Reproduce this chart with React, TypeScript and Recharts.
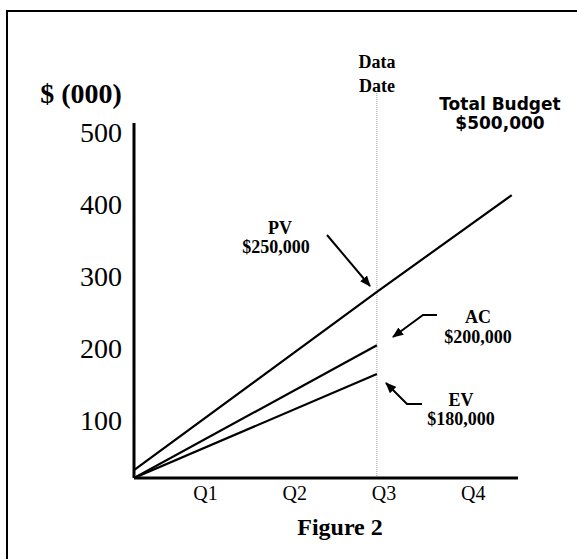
import React from "react";
import { LineChart, Line, XAxis, YAxis, ReferenceLine } from "recharts";

// time in quarters from project start
const periods = [0, 2.72, 4.23];
const pvValues = [31, 278, 412];
const acValues: (number | null)[] = [20, 204, null];
const evValues: (number | null)[] = [20, 164, null];

const dataDate = 2.72;
const quarterTicks = [0.8, 1.8, 2.8, 3.8];
const quarterLabels = ["Q1", "Q2", "Q3", "Q4"];
const yTicks = [100, 200, 300, 400, 500];

const chartData = periods.map((t, i) => ({
    t,
    pv: pvValues[i],
    ac: acValues[i],
    ev: evValues[i],
}));

const serif = "'Liberation Serif', 'Times New Roman', serif";
const sans = "'DejaVu Sans', Verdana, sans-serif";

function Notes() {
    const bold = { fontFamily: serif, fontWeight: 700, fontSize: 18, fill: "#000" };
    return (
        <svg width={577} height={559} style={{ position: "absolute", left: 0, top: 0, pointerEvents: "none" }}>
            <defs>
                <marker id="head" markerWidth="11" markerHeight="9" refX="10" refY="4.5" orient="auto" markerUnits="userSpaceOnUse">
                    <path d="M0,0 L11,4.5 L0,9 Z" fill="#000" />
                </marker>
            </defs>
            <text x={81} y={103} textAnchor="middle" style={{ ...bold, fontSize: 28 }}>$ (000)</text>
            <text x={377} y={68} textAnchor="middle" style={{ ...bold, fontSize: 18 }}>Data</text>
            <text x={377} y={92} textAnchor="middle" style={{ ...bold, fontSize: 18 }}>Date</text>
            <text x={500} y={110} textAnchor="middle" style={{ fontFamily: sans, fontWeight: 700, fontSize: 17 }}>Total Budget</text>
            <text x={500} y={129} textAnchor="middle" style={{ fontFamily: sans, fontWeight: 700, fontSize: 17 }}>$500,000</text>

            <text x={280} y={234} textAnchor="middle" style={bold}>PV</text>
            <text x={276} y={253} textAnchor="middle" style={bold}>$250,000</text>
            <line x1={327} y1={235} x2={370} y2={286} stroke="#000" strokeWidth={2} markerEnd="url(#head)" />

            <text x={478} y={323} textAnchor="middle" style={bold}>AC</text>
            <text x={478} y={343} textAnchor="middle" style={bold}>$200,000</text>
            <polyline points="437,315 423,315 393,337" fill="none" stroke="#000" strokeWidth={2} markerEnd="url(#head)" />

            <text x={461} y={406} textAnchor="middle" style={bold}>EV</text>
            <text x={461} y={425} textAnchor="middle" style={bold}>$180,000</text>
            <polyline points="422,404 407,404 386,383" fill="none" stroke="#000" strokeWidth={2} markerEnd="url(#head)" />

            <text x={340} y={535} textAnchor="middle" style={{ ...bold, fontSize: 24 }}>Figure 2</text>
        </svg>
    );
}

export default function App() {
    return (
        <div style={{ position: "absolute", left: 0, top: 0, width: 577, height: 559, background: "#fff", overflow: "hidden" }}>
            <div style={{ position: "absolute", left: 6, top: 10, width: 700, height: 700, border: "2px solid #000" }} />
            <LineChart width={577} height={559} data={chartData} margin={{ top: 123, right: 59, bottom: 51, left: 74 }}>
                <XAxis
                    dataKey="t"
                    type="number"
                    domain={[0, 4.3]}
                    ticks={quarterTicks}
                    tickFormatter={(v: number) => quarterLabels[quarterTicks.indexOf(v)] ?? ""}
                    tickLine={false}
                    tickSize={0}
                    tickMargin={8}
                    height={30}
                    axisLine={{ stroke: "#000", strokeWidth: 3 }}
                    tick={{ fill: "#000", fontFamily: serif, fontSize: 20 }}
                    allowDataOverflow
                />
                <YAxis
                    type="number"
                    domain={[20, 512]}
                    ticks={yTicks}
                    tickLine={false}
                    tickSize={0}
                    tickMargin={12}
                    width={60}
                    axisLine={{ stroke: "#000", strokeWidth: 3 }}
                    tick={{ fill: "#000", fontFamily: serif, fontSize: 28 }}
                    allowDataOverflow
                />
                <ReferenceLine
                    segment={[{ x: dataDate, y: 20 }, { x: dataDate, y: 555 }]}
                    stroke="#999"
                    strokeDasharray="1 1"
                    ifOverflow="visible"
                />
                <Line dataKey="pv" type="linear" stroke="#000" strokeWidth={2.2} dot={false} isAnimationActive={false} />
                <Line dataKey="ac" type="linear" stroke="#000" strokeWidth={2.2} dot={false} isAnimationActive={false} />
                <Line dataKey="ev" type="linear" stroke="#000" strokeWidth={2.2} dot={false} isAnimationActive={false} />
            </LineChart>
            <Notes />
        </div>
    );
}
